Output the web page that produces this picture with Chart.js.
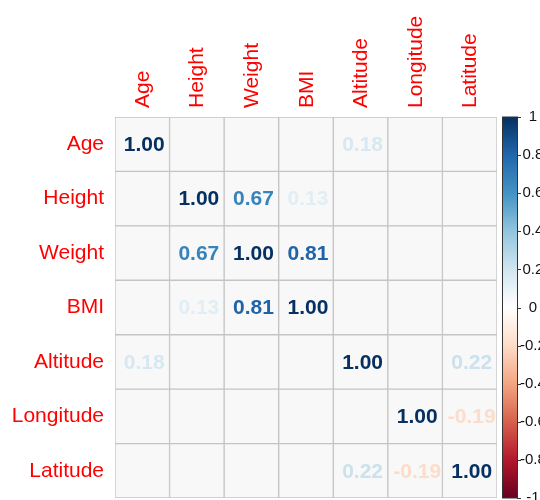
<!DOCTYPE html>
<html>
<head>
<meta charset="utf-8">
<script src="https://cdn.jsdelivr.net/npm/chart.js@4"></script>
<style>
  html, body { margin: 0; padding: 0; background: #fff; }
  #wrap { width: 540px; height: 500px; }
</style>
</head>
<body>
<div id="wrap"><canvas id="corr"></canvas></div>
<script>
// variables (rows and columns)
const vars = ["Age", "Height", "Weight", "BMI", "Altitude", "Longitude", "Latitude"];

// correlations shown in the plot, null = blank cell
const corr = [
  [1.00, null, null, null, 0.18, null, null],
  [null, 1.00, 0.67, 0.13, null, null, null],
  [null, 0.67, 1.00, 0.81, null, null, null],
  [null, 0.13, 0.81, 1.00, null, null, null],
  [0.18, null, null, null, 1.00, null, 0.22],
  [null, null, null, null, null, 1.00, -0.19],
  [null, null, null, null, 0.22, -0.19, 1.00]
];

// RdBu palette, from -1 to 1 in steps of 0.2
const rdbu = ["#67001F", "#B2182B", "#D6604D", "#F4A582", "#FDDBC7", "#FFFFFF",
              "#D1E5F0", "#92C5DE", "#4393C3", "#2166AC", "#053061"];

const FONT = '"Liberation Sans", Arial, sans-serif';

function hexRgb(h) {
  return [1, 3, 5].map(i => parseInt(h.substr(i, 2), 16));
}

function corrColor(v) {
  const t = (v + 1) / 2 * (rdbu.length - 1);
  const i = Math.min(Math.floor(t), rdbu.length - 2);
  const f = t - i;
  const a = hexRgb(rdbu[i]), b = hexRgb(rdbu[i + 1]);
  const c = a.map((x, k) => Math.round(x + (b[k] - x) * f));
  return `rgb(${c[0]},${c[1]},${c[2]})`;
}

// one floating bar per cell
const cells = [];
vars.forEach((rowName, r) => {
  vars.forEach((colName, c) => {
    cells.push({ x: colName, y: [r - 0.5, r + 0.5] });
  });
});

function noPadding(scale) {
  scale.paddingLeft = 0;
  scale.paddingRight = 0;
  scale.paddingTop = 0;
  scale.paddingBottom = 0;
}

// numbers inside the cells
const valueLabels = {
  id: "valueLabels",
  afterDatasetsDraw(chart) {
    const { ctx, scales: { x, y } } = chart;
    ctx.save();
    ctx.font = `bold 21px ${FONT}`;
    ctx.textAlign = "center";
    ctx.textBaseline = "middle";
    corr.forEach((row, r) => {
      row.forEach((v, c) => {
        if (v === null) return;
        ctx.fillStyle = corrColor(v);
        ctx.fillText(v.toFixed(2), x.getPixelForValue(c) + 2, y.getPixelForValue(r) + 1);
      });
    });
    ctx.restore();
  }
};

// colour legend on the right
const colorBar = {
  id: "colorBar",
  afterDraw(chart) {
    const { ctx } = chart;
    const cb = chart.scales.cb;
    const top = cb.getPixelForValue(1);
    const bottom = cb.getPixelForValue(-1);
    const left = 502, w = 15;
    const grad = ctx.createLinearGradient(0, bottom, 0, top);
    rdbu.forEach((col, i) => grad.addColorStop(i / (rdbu.length - 1), col));
    ctx.save();
    ctx.fillStyle = grad;
    ctx.fillRect(left, top, w, bottom - top);
    ctx.strokeStyle = "#333";
    ctx.lineWidth = 1;
    ctx.strokeRect(left + 0.5, top, w, bottom - top);
    cb.ticks.forEach(t => {
      const py = Math.round(cb.getPixelForValue(t.value)) + 0.5;
      ctx.beginPath();
      ctx.moveTo(left + w, py);
      ctx.lineTo(left + w + 4, py);
      ctx.stroke();
    });
    ctx.restore();
  }
};

new Chart(document.getElementById("corr"), {
  type: "bar",
  data: {
    labels: vars,
    datasets: [{
      data: cells,
      backgroundColor: "#f8f8f8",
      borderColor: "#c4c4c4",
      borderWidth: 1,
      borderSkipped: false,
      barPercentage: 1,
      categoryPercentage: 1,
      xAxisID: "x",
      yAxisID: "y"
    }]
  },
  options: {
    responsive: true,
    maintainAspectRatio: false,
    animation: false,
    layout: { padding: { bottom: 2 } },
    plugins: {
      legend: { display: false },
      tooltip: { enabled: false }
    },
    scales: {
      x: {
        type: "category",
        position: "top",
        offset: true,
        grid: { display: false, drawTicks: false },
        border: { display: false },
        ticks: {
          autoSkip: false,
          minRotation: 90,
          maxRotation: 90,
          padding: 9,
          labelOffset: 26,
          color: "#f00",
          font: { family: FONT, size: 21 }
        },
        afterFit(scale) {
          scale.height = 117;
          noPadding(scale);
        }
      },
      y: {
        type: "linear",
        position: "left",
        reverse: true,
        min: -0.5,
        max: 6.5,
        grid: { display: false, drawTicks: false },
        border: { display: false },
        afterBuildTicks(scale) {
          scale.ticks = vars.map((_, i) => ({ value: i }));
        },
        ticks: {
          padding: 11,
          color: "#f00",
          font: { family: FONT, size: 21 },
          callback: v => vars[v]
        },
        afterFit(scale) {
          scale.width = 115;
          noPadding(scale);
        }
      },
      cb: {
        type: "linear",
        position: "right",
        min: -1,
        max: 1,
        grid: { display: false, drawTicks: false },
        border: { display: false },
        ticks: {
          stepSize: 0.2,
          padding: 23,
          crossAlign: "center",
          color: "#111",
          font: { family: FONT, size: 15 },
          callback: v => String(Math.round(v * 10) / 10 || 0)
        },
        afterFit(scale) {
          scale.width = 43;
          noPadding(scale);
        }
      }
    }
  },
  plugins: [valueLabels, colorBar]
});
</script>
</body>
</html>
